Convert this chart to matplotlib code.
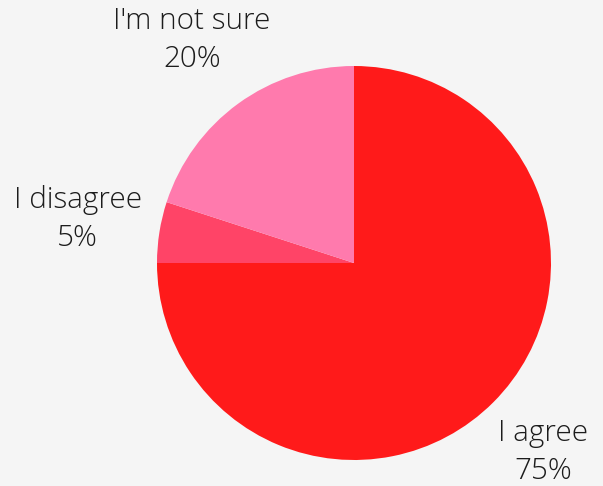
import numpy as np
import matplotlib.pyplot as plt

labels = ["I agree", "I disagree", "I'm not sure"]
shares = [75, 5, 20]
colors = ["#ff1a1a", "#ff4467", "#ff7aad"]

fig = plt.figure(figsize=(6.03, 4.86), dpi=100, facecolor="#f5f5f5")
ax = fig.add_axes([0, 0, 1, 1])
ax.set_facecolor("#f5f5f5")

wedges, _ = ax.pie(shares, colors=colors, startangle=90, counterclock=False,
                   radius=1.0, wedgeprops=dict(linewidth=0))

# labels sit outside each slice, centred on the slice's mid angle
dist = [1.36, 1.42, 1.40]
for w, lab, val, d in zip(wedges, labels, shares, dist):
    ang = np.deg2rad((w.theta1 + w.theta2) / 2)
    ax.text(d * np.cos(ang), d * np.sin(ang), f"{lab}\n{val}%",
            ha="center", va="center", fontsize=21.3, family="Open Sans",
            fontweight="light", color="#1c1c1c", linespacing=1.38)

ax.set_xlim(-354 / 197, (603 - 354) / 197)
ax.set_ylim(-(486 - 263) / 197, 263 / 197)
ax.set_aspect("equal")
ax.axis("off")

fig.savefig("out.png", dpi=100, facecolor=fig.get_facecolor())
